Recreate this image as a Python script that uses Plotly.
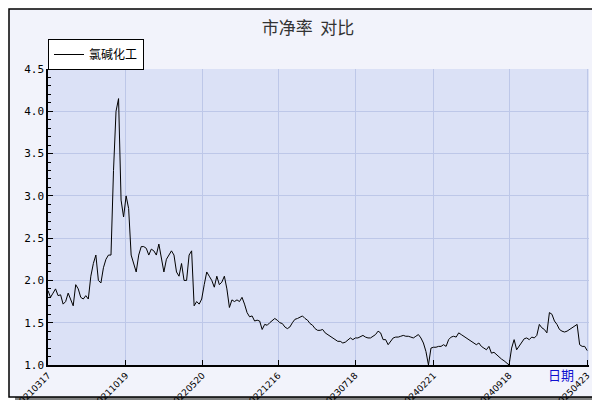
import pandas as pd
import plotly.graph_objects as go

# weekly price-to-book values
start_date = "2021-03-17"
pb_values = [
    1.88, 1.80, 1.85, 1.90, 1.82, 1.83, 1.72, 1.75, 1.85, 1.78, 1.70,
    1.95, 1.90, 1.80, 1.78, 1.82, 1.78, 2.05, 2.20, 2.30, 2.00, 1.97,
    2.15, 2.25, 2.30, 2.30, 3.30, 4.00, 4.15, 2.95, 2.75, 3.00, 2.85,
    2.30, 2.20, 2.10, 2.30, 2.40, 2.40, 2.38, 2.30, 2.37, 2.35, 2.30,
    2.43, 2.25, 2.10, 2.25, 2.30, 2.35, 2.30, 2.10, 2.05, 2.20, 2.00,
    2.00, 2.30, 2.35, 1.70, 1.75, 1.72, 1.78, 1.95, 2.10, 2.05, 2.00,
    1.92, 2.05, 1.95, 1.98, 2.05, 1.90, 1.68, 1.77, 1.75, 1.77, 1.75,
    1.80, 1.72, 1.62, 1.57, 1.58, 1.52, 1.53, 1.52, 1.42, 1.48, 1.47,
    1.50, 1.52, 1.55, 1.53, 1.50, 1.49, 1.45, 1.43, 1.45, 1.50, 1.54,
    1.55, 1.57, 1.58, 1.55, 1.53, 1.49, 1.47, 1.43, 1.41, 1.41, 1.42,
    1.38, 1.36, 1.34, 1.32, 1.30, 1.28, 1.28, 1.26, 1.27, 1.30, 1.32,
    1.30, 1.32, 1.32, 1.34, 1.35, 1.33, 1.32, 1.32, 1.34, 1.36, 1.40,
    1.38, 1.30, 1.30, 1.24, 1.28, 1.32, 1.33, 1.33, 1.34, 1.35, 1.34,
    1.34, 1.33, 1.32, 1.34, 1.36, 1.32, 1.26, 1.16, 1.00, 1.20, 1.21,
    1.21, 1.22, 1.22, 1.24, 1.22, 1.30, 1.33, 1.34, 1.33, 1.38, 1.36,
    1.34, 1.32, 1.30, 1.28, 1.26, 1.24, 1.26, 1.22, 1.20, 1.18, 1.22,
    1.14, 1.15, 1.12, 1.10, 1.07, 1.05, 1.03, 1.00, 1.20, 1.30, 1.18,
    1.22, 1.27, 1.31, 1.32, 1.30, 1.33, 1.32, 1.35, 1.48, 1.44, 1.42,
    1.38, 1.62, 1.60, 1.52, 1.48, 1.42, 1.40, 1.39, 1.40, 1.42, 1.44,
    1.46, 1.48, 1.24, 1.22, 1.22, 1.17,
]
dates = pd.date_range(start_date, periods=len(pb_values), freq="7D")

tick_dates = ["2021-03-17", "2021-10-19", "2022-05-20", "2022-12-16",
              "2023-07-18", "2024-02-21", "2024-09-18", "2025-04-23"]
tick_labels = [d.replace("-", "") for d in tick_dates]

fig = go.Figure()
fig.add_trace(go.Scatter(x=dates, y=pb_values, mode="lines", name="氯碱化工",
                         line=dict(color="black", width=1)))

# frame, shadow and plot background (plot area is 40..581 x 61..357 px)
def px_x(p):
    return (p - 40) / 541

def px_y(p):
    return (357 - p) / 296

shapes = [
    dict(type="rect", xref="paper", yref="paper", x0=px_x(7), x1=px_x(597),
         y0=px_y(8), y1=px_y(396), fillcolor="#7f7f7f", line_width=0, layer="below"),
    dict(type="rect", xref="paper", yref="paper", x0=px_x(1), x1=px_x(590),
         y0=px_y(1), y1=px_y(389), fillcolor="#f2f3fb",
         line=dict(color="black", width=1.5), layer="below"),
    dict(type="rect", xref="paper", yref="paper", x0=0, x1=1, y0=0, y1=1,
         fillcolor="#dbe1f6", line_width=0, layer="below"),
    dict(type="rect", xref="paper", yref="paper", x0=px_x(44), x1=px_x(126),
         y0=px_y(35), y1=px_y(60), fillcolor="#9a9a9a", line_width=0, layer="below"),
]

fig.update_layout(
    width=600, height=400,
    margin=dict(l=40, r=19, t=61, b=43, autoexpand=False),
    paper_bgcolor="white", plot_bgcolor="rgba(0,0,0,0)",
    font=dict(family="Noto Sans CJK SC", size=11, color="black"),
    title=dict(text="市净率  对比", x=0.5, xanchor="center", y=0.965,
               font=dict(size=17, color="#333333"), automargin=False),
    showlegend=True,
    legend=dict(x=0, y=px_y(31), xanchor="left", yanchor="top",
                bgcolor="white", bordercolor="black", borderwidth=1,
                itemwidth=30, font=dict(size=12), tracegroupgap=0),
    shapes=shapes,
    annotations=[dict(text="日期", xref="paper", yref="paper", x=px_x(568),
                      y=px_y(378), showarrow=False,
                      font=dict(color="#1010d0", size=13))],
    xaxis=dict(type="date", range=["2021-03-17", "2025-04-28"], automargin=False,
               tickvals=tick_dates, ticktext=tick_labels, tickangle=-45,
               tickfont=dict(family="DejaVu Sans", size=9),
               showgrid=True, gridcolor="#bdc7e8", gridwidth=1,
               showline=True, linecolor="black", linewidth=1.5,
               ticks="inside", ticklen=5, tickcolor="black", zeroline=False),
    yaxis=dict(range=[1.0, 4.5], dtick=0.5, tickformat=".1f", automargin=False,
               tickfont=dict(family="DejaVu Sans Mono", size=11),
               showgrid=True, gridcolor="#bdc7e8", gridwidth=1,
               showline=True, linecolor="black", linewidth=1.5,
               ticks="inside", ticklen=5, tickcolor="black", zeroline=False,
               minor=dict(dtick=0.1, ticks="inside", ticklen=3,
                          tickcolor="black", showgrid=False)),
)

fig.write_html("out.html")
